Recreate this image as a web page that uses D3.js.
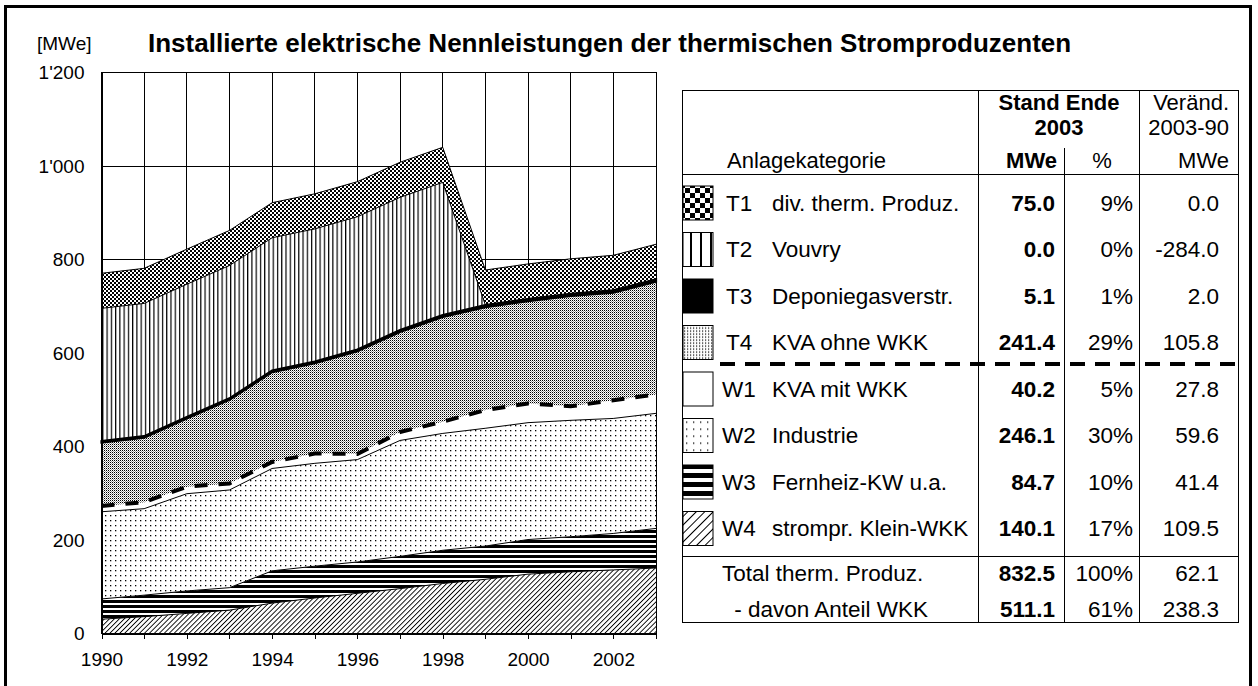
<!DOCTYPE html>
<html lang="de">
<head>
<meta charset="UTF-8">
<title>Installierte elektrische Nennleistungen der thermischen Stromproduzenten</title>
<script src="https://d3js.org/d3.v7.min.js"></script>
<style>
  body { margin: 0; background: #fff; }
  svg { display: block; font-family: "Liberation Sans", Arial, sans-serif; }
</style>
</head>
<body>
<div id="chart"></div>
<script>
// installed capacity per category, MWe
const years = [1990, 1991, 1992, 1993, 1994, 1995, 1996, 1997, 1998, 1999, 2000, 2001, 2002, 2003];
const w4 = [30.6, 36, 43, 50, 65, 76, 86, 96, 107, 116, 127, 132, 136, 140.1];
const w3 = [43.3, 46, 48, 48, 69, 68, 67, 69, 71, 71, 74, 75, 78, 84.7];
const w2 = [186.5, 185, 208, 209, 219, 220, 219, 248, 250, 252, 250, 249, 246, 246.1];
const w1 = [12.4, 14, 15, 14, 14, 21, 12, 18, 25, 39, 41, 30, 39, 40.2];
const t4 = [135.6, 138, 146, 179, 192, 193, 220, 214, 224, 220, 219, 236, 230, 241.4];
const t3 = [3.1, 3.1, 3.1, 3.1, 3.5, 3.5, 3.5, 4, 4, 4.5, 4.5, 4.5, 5, 5.1];
const t2 = [284, 284, 284, 284, 284, 284, 284, 284, 284, 0, 0, 0, 0, 0];
const t1 = [75, 75, 75, 75, 75, 75, 75, 75, 75, 75, 75, 75, 75, 75];
const yTicks = [0, 200, 400, 600, 800, 1000, 1200];

// table
const codes = ["T1", "T2", "T3", "T4", "W1", "W2", "W3", "W4"];
const names = ["div. therm. Produz.", "Vouvry", "Deponiegasverstr.", "KVA ohne WKK",
               "KVA mit WKK", "Industrie", "Fernheiz-KW u.a.", "strompr. Klein-WKK"];
const mwe2003 = [75.0, 0.0, 5.1, 241.4, 40.2, 246.1, 84.7, 140.1];
const share2003 = [9, 0, 1, 29, 5, 30, 10, 17];
const change = [0.0, -284.0, 2.0, 105.8, 27.8, 59.6, 41.4, 109.5];
const totalNames = ["Total therm. Produz.", " - davon Anteil WKK"];
const totalMwe = [832.5, 511.1];
const totalShare = [100, 61];
const totalChange = [62.1, 238.3];

const keys = ["w4", "w3", "w2", "w1", "t4", "t3", "t2", "t1"];
const series = { w4, w3, w2, w1, t4, t3, t2, t1 };
const rows = years.map((yr, i) => {
    const r = { year: yr };
    keys.forEach(k => r[k] = series[k][i]);
    return r;
});

const svg = d3.select("#chart").append("svg")
    .attr("width", 1258)
    .attr("height", 686);
const defs = svg.append("defs");

function pattern(id, w, h, draw, rotate) {
    const p = defs.append("pattern")
        .attr("id", id)
        .attr("patternUnits", "userSpaceOnUse")
        .attr("width", w)
        .attr("height", h);
    if (rotate) p.attr("patternTransform", `rotate(${rotate})`);
    p.append("rect").attr("width", w).attr("height", h).attr("fill", "#fff");
    draw(p);
}
const blk = (p, x, y, w, h, c) => p.append("rect").attr("x", x).attr("y", y)
    .attr("width", w).attr("height", h).attr("fill", c || "#000");

// chart fills
pattern("p-t1", 4, 4, p => { blk(p, 0, 0, 2, 2); blk(p, 2, 2, 2, 2); });
pattern("p-t2", 4.26, 10, p => blk(p, 0, 0, 1.2, 10));
pattern("p-t4", 2, 2, p => { blk(p, 0, 0, 1, 1); blk(p, 1, 1, 1, 1, "#999"); });
pattern("p-w2", 5, 5, p => blk(p, 0, 0, 1.3, 1.3));
pattern("p-w3", 10, 5, p => blk(p, 0, 0, 10, 3));
pattern("p-w4", 3.5, 3.5, p => blk(p, 0, 0, 0.9, 3.5), 45);
// legend swatch fills (coarser)
pattern("s-t1", 10, 10, p => { blk(p, 0, 0, 5, 5); blk(p, 5, 5, 5, 5); });
pattern("s-t2", 10, 10, p => blk(p, 0, 0, 2, 10));
pattern("s-t4", 3, 3, p => blk(p, 0, 0, 1.2, 1.2));
pattern("s-w2", 7, 7, p => blk(p, 0, 0, 1.3, 1.3));
pattern("s-w3", 10, 9, p => blk(p, 0, 0, 10, 5));
pattern("s-w4", 6, 6, p => blk(p, 0, 0, 1, 6), 45);

const fills = {
    t1: "url(#p-t1)", t2: "url(#p-t2)", t3: "#000", t4: "url(#p-t4)",
    w1: "#fff", w2: "url(#p-w2)", w3: "url(#p-w3)", w4: "url(#p-w4)"
};
const swatchFills = {
    T1: "url(#s-t1)", T2: "url(#s-t2)", T3: "#000", T4: "url(#s-t4)",
    W1: "#fff", W2: "url(#s-w2)", W3: "url(#s-w3)", W4: "url(#s-w4)"
};

// outer frame
svg.append("rect")
    .attr("x", 5.5).attr("y", 6.5)
    .attr("width", 1245).attr("height", 700)
    .attr("fill", "none").attr("stroke", "#000").attr("stroke-width", 3);

// scales
const x = d3.scaleLinear().domain([1990, 2003]).range([101.5, 656]);
const y = d3.scaleLinear().domain([0, 1200]).range([633.5, 72.5]);

// grid
const grid = svg.append("g").attr("stroke", "#000").attr("stroke-width", 1)
    .attr("shape-rendering", "crispEdges");
grid.selectAll(".gy").data(yTicks).enter().append("line")
    .attr("x1", x(1990)).attr("x2", x(2003))
    .attr("y1", d => y(d)).attr("y2", d => y(d));
grid.selectAll(".gx").data(years).enter().append("line")
    .attr("x1", d => x(d)).attr("x2", d => x(d))
    .attr("y1", y(0)).attr("y2", y(1200));

// stacked areas
const stacked = d3.stack().keys(keys)(rows);
const area = d3.area()
    .x(d => x(d.data.year))
    .y0(d => y(d[0]))
    .y1(d => y(d[1]));
const topLine = d3.line()
    .x(d => x(d.data.year))
    .y(d => y(d[1]));

svg.append("g").selectAll("path").data(stacked).enter().append("path")
    .attr("d", area)
    .attr("fill", d => fills[d.key]);

svg.append("g").selectAll("path").data(stacked.filter(s => s.key !== "w1")).enter().append("path")
    .attr("d", topLine)
    .attr("fill", "none")
    .attr("stroke", "#000")
    .attr("stroke-width", 1);

// thick black band for T3
svg.append("path")
    .datum(stacked.find(s => s.key === "t3"))
    .attr("d", area)
    .attr("fill", "#000")
    .attr("stroke", "#000")
    .attr("stroke-width", 2.2);

// dashed WKK boundary
svg.append("path")
    .datum(stacked.find(s => s.key === "w1"))
    .attr("d", topLine)
    .attr("fill", "none")
    .attr("stroke", "#000")
    .attr("stroke-width", 4)
    .attr("stroke-dasharray", "13,11");

// plot border over the areas
svg.append("rect")
    .attr("x", x(1990)).attr("y", y(1200))
    .attr("width", x(2003) - x(1990)).attr("height", y(0) - y(1200))
    .attr("fill", "none").attr("stroke", "#000").attr("stroke-width", 1)
    .attr("shape-rendering", "crispEdges");

// axes
const xAxis = svg.append("g")
    .attr("transform", `translate(0,${y(0)})`)
    .call(d3.axisBottom(x).tickValues(years).tickSize(5).tickPadding(14)
        .tickFormat(d => d % 2 === 0 ? d : ""));
const yAxis = svg.append("g")
    .attr("transform", `translate(${x(1990)},0)`)
    .call(d3.axisLeft(y).tickValues(yTicks).tickSize(0).tickPadding(17)
        .tickFormat(d => d3.format(",")(d).replace(",", "'")));
[xAxis, yAxis].forEach(a => {
    a.selectAll("text").attr("font-size", 19).attr("font-family", "Liberation Sans, Arial, sans-serif").attr("fill", "#000");
    a.selectAll("line,path").attr("stroke", "#000").attr("shape-rendering", "crispEdges");
});

// titles
svg.append("text")
    .attr("x", 37).attr("y", 50)
    .attr("font-size", 19)
    .text("[MWe]");
svg.append("text")
    .attr("x", 148).attr("y", 52)
    .attr("font-size", 26)
    .attr("font-weight", "bold")
    .text("Installierte elektrische Nennleistungen der thermischen Stromproduzenten");

// ---- table ----
const tbl = svg.append("g").attr("font-size", 22.5);
const tLeft = 682.5, tRight = 1238.5, tTop = 90.5, tBottom = 622.5;
const colA = 978.5, colB = 1064.5, colC = 1139.5;
const rowY = d3.scalePoint().domain(codes).range([203, 528.5]);
const totalY = d3.scalePoint().domain(totalNames).range([573.5, 609]);

const lines = tbl.append("g").attr("stroke", "#000").attr("shape-rendering", "crispEdges");
lines.append("rect")
    .attr("x", tLeft).attr("y", tTop)
    .attr("width", tRight - tLeft).attr("height", tBottom - tTop)
    .attr("fill", "none").attr("stroke-width", 1.5);
lines.append("line").attr("x1", tLeft).attr("x2", tRight).attr("y1", 174.5).attr("y2", 174.5);
lines.append("line").attr("x1", tLeft).attr("x2", tRight).attr("y1", 556.5).attr("y2", 556.5);
lines.append("line").attr("x1", colA).attr("x2", colA).attr("y1", tTop).attr("y2", tBottom);
lines.append("line").attr("x1", colC).attr("x2", colC).attr("y1", tTop).attr("y2", tBottom);
lines.append("line").attr("x1", colB).attr("x2", colB).attr("y1", 148).attr("y2", tBottom);
tbl.append("line")
    .attr("x1", 720).attr("x2", tRight).attr("y1", 364).attr("y2", 364)
    .attr("stroke", "#000").attr("stroke-width", 4).attr("stroke-dasharray", "15,10");

// header
const hdr = tbl.append("g").attr("font-size", 22);
hdr.append("text").attr("x", (colA + colC) / 2).attr("y", 102).attr("dy", "0.35em")
    .attr("text-anchor", "middle").attr("font-weight", "bold").text("Stand Ende");
hdr.append("text").attr("x", (colA + colC) / 2).attr("y", 127).attr("dy", "0.35em")
    .attr("text-anchor", "middle").attr("font-weight", "bold").text("2003");
hdr.append("text").attr("x", 1229).attr("y", 102).attr("dy", "0.35em")
    .attr("text-anchor", "end").text("Veränd.");
hdr.append("text").attr("x", 1229).attr("y", 127).attr("dy", "0.35em")
    .attr("text-anchor", "end").text("2003-90");
hdr.append("text").attr("x", 727).attr("y", 160).attr("dy", "0.35em")
    .text("Anlagekategorie");
hdr.append("text").attr("x", 1057).attr("y", 160).attr("dy", "0.35em")
    .attr("text-anchor", "end").attr("font-weight", "bold").text("MWe");
hdr.append("text").attr("x", (colB + colC) / 2).attr("y", 160).attr("dy", "0.35em")
    .attr("text-anchor", "middle").text("%");
hdr.append("text").attr("x", 1229).attr("y", 160).attr("dy", "0.35em")
    .attr("text-anchor", "end").text("MWe");

// category rows
const row = tbl.selectAll(".row").data(codes).enter().append("g")
    .attr("transform", d => `translate(0,${rowY(d)})`);
row.append("rect")
    .attr("x", 683).attr("y", -17)
    .attr("width", 30).attr("height", 34)
    .attr("fill", d => swatchFills[d])
    .attr("stroke", "#000").attr("stroke-width", 1);
row.append("text").attr("x", d => d[0] === "T" ? 726 : 722).attr("dy", "0.35em").text(d => d);
row.append("text").attr("x", 772).attr("dy", "0.35em").text((d, i) => names[i]);
row.append("text").attr("x", 1055).attr("dy", "0.35em").attr("text-anchor", "end")
    .attr("font-weight", "bold").text((d, i) => mwe2003[i].toFixed(1));
row.append("text").attr("x", 1133).attr("dy", "0.35em").attr("text-anchor", "end")
    .text((d, i) => share2003[i] + "%");
row.append("text").attr("x", 1219).attr("dy", "0.35em").attr("text-anchor", "end")
    .text((d, i) => change[i].toFixed(1));

// totals
const tot = tbl.selectAll(".tot").data(totalNames).enter().append("g")
    .attr("transform", d => `translate(0,${totalY(d)})`);
tot.append("text").attr("x", (d, i) => i === 0 ? 722 : 728).attr("dy", "0.35em")
    .attr("xml:space", "preserve").text(d => d);
tot.append("text").attr("x", 1055).attr("dy", "0.35em").attr("text-anchor", "end")
    .attr("font-weight", "bold").text((d, i) => totalMwe[i].toFixed(1));
tot.append("text").attr("x", 1133).attr("dy", "0.35em").attr("text-anchor", "end")
    .text((d, i) => totalShare[i] + "%");
tot.append("text").attr("x", 1219).attr("dy", "0.35em").attr("text-anchor", "end")
    .text((d, i) => totalChange[i].toFixed(1));
</script>
</body>
</html>
